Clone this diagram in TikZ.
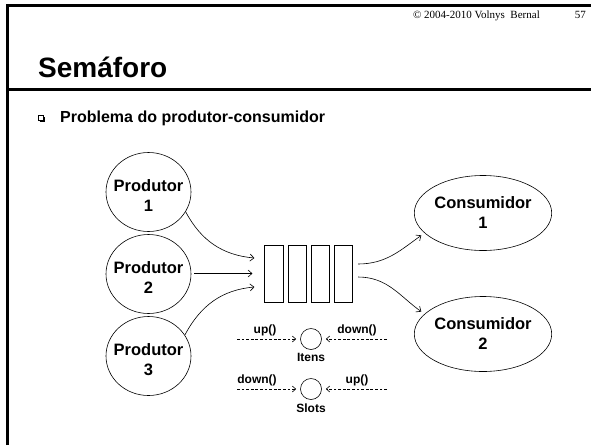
\documentclass[tikz,border=0pt]{standalone}
\usepackage{fontspec}
\setmainfont{Liberation Sans}
\newfontfamily\copyfont{Liberation Serif}
\usetikzlibrary{shapes.geometric,arrows.meta,calc}
\begin{document}
\begin{tikzpicture}[x=1pt,y=-1pt,
  proc/.style={ellipse,draw,line width=0.6pt,inner sep=0pt,minimum width=85pt,minimum height=79pt},
  cons/.style={ellipse,draw,line width=0.6pt,inner sep=0pt,minimum width=104pt,minimum height=75pt,align=center,font=\fontsize{16.5}{20}\selectfont\bfseries},
  ptext/.style={inner sep=0pt,align=center,font=\fontsize{16.5}{20}\selectfont\bfseries},
  slotbox/.style={draw,line width=0.6pt,minimum width=18.5pt,minimum height=57pt,inner sep=0pt},
  flow/.style={line width=0.6pt,-{Straight Barb[length=4pt,width=7pt]}},
  sem/.style={circle,draw,line width=0.6pt,minimum size=21pt,inner sep=0pt},
  sig/.style={line width=0.6pt,dash pattern=on 2.8pt off 1.8pt,-{Straight Barb[length=3.5pt,width=6pt]},shorten >=4pt},
  lbl/.style={font=\fontsize{12}{14}\selectfont\bfseries,inner sep=1pt,anchor=south},
  semname/.style={font=\fontsize{12}{14}\selectfont\bfseries,inner sep=0pt}
]
\useasboundingbox (0,0) rectangle (591,445);
% frame
\draw[line width=2.5pt] (7.5,445) -- (7.5,5.5) -- (591,5.5);
\draw[line width=3pt] (6,89) -- (591,89);
% header texts
\node[anchor=base east,inner sep=0pt,font=\copyfont\fontsize{11}{13}\selectfont] (copy) at (540,18) {© 2004-2010 Volnys\ \ Bernal};
\node[anchor=base east,inner sep=0pt,font=\copyfont\fontsize{11}{13}\selectfont] (page) at (586,18) {57};
\node[anchor=base west,inner sep=0pt,font=\fontsize{28}{32}\selectfont\bfseries] (title) at (38,77) {Semáforo};
% bullet
\draw[line width=0.5pt] (38.5,115.5) rectangle (43.5,120.5);
\draw[line width=1pt] (39.5,121.5) -- (44.5,121.5) -- (44.5,116.5);
\node[anchor=base west,inner sep=0pt,font=\fontsize{16}{19}\selectfont\bfseries] (sub) at (60,122) {Problema do produtor-consumidor};
% producers
\node[proc] (p1) at (148.5,192) {};
\node[ptext] (p1t) at ($(p1)+(0,4)$) {Produtor\\1};
\node[proc] (p2) at (148.5,274) {};
\node[ptext] (p2t) at ($(p2)+(0,4)$) {Produtor\\2};
\node[proc] (p3) at (148.5,356) {};
\node[ptext] (p3t) at ($(p3)+(0,4)$) {Produtor\\3};
% consumers
\node[cons] (c1) at (483,213) {Consumidor\\1};
\node[cons] (c2) at (483,334) {Consumidor\\2};
% buffer
\node[slotbox] (b1) at (274,273.5) {};
\node[slotbox] (b2) at (297.5,273.5) {};
\node[slotbox] (b3) at (320.5,273.5) {};
\node[slotbox] (b4) at (343.5,273.5) {};
% flows
\draw[flow] (p1.-28) to[out=-62,in=175] ($(b1.west)+(-10,-15.5)$);
\draw[flow] ($(p2.east |- b1.west)+(3,0)$) -- ($(b1.west)+(-12,0)$);
\draw[flow] (p3.30) to[out=62,in=185] ($(b1.west)+(-10,13.5)$);
\draw[flow,shorten >=4pt] ($(b4.east)+(5,-9.5)$) to[out=0,in=215] (c1.199);
\draw[flow,shorten >=4pt] ($(b4.east)+(5,3.5)$) to[out=0,in=145] (c2.161);
% semaphores
\node[sem] (itens) at (311,339) {};
\node[semname] (itenslbl) at (311,357) {Itens};
\coordinate (i1) at (237,339);
\coordinate (i2) at (387,339);
\draw[sig] (i1) -- (itens);
\draw[sig] (i2) -- (itens);
\node[lbl] (iup) at (265,337) {up()};
\node[lbl] (idown) at (357,337) {down()};
\node[sem] (slots) at (311,389) {};
\node[semname] (slotslbl) at (311,408) {Slots};
\coordinate (s1) at (237,389);
\coordinate (s2) at (387,389);
\draw[sig] (s1) -- (slots);
\draw[sig] (s2) -- (slots);
\node[lbl] (sdown) at (257,387) {down()};
\node[lbl] (sup) at (357,387) {up()};
\end{tikzpicture}
\end{document}
